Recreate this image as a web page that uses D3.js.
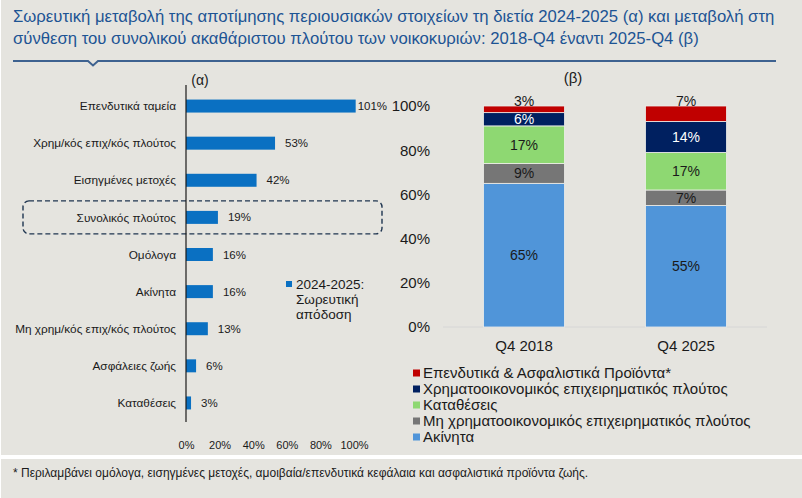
<!DOCTYPE html>
<html>
<head>
<meta charset="utf-8">
<script src="https://cdn.jsdelivr.net/npm/d3@7"></script>
<style>
  html, body { margin: 0; padding: 0; background: #ffffff; }
  svg { display: block; }
  text { font-family: "Liberation Sans", Arial, sans-serif; }
</style>
</head>
<body>
<svg width="802" height="498"></svg>
<script>
// panel (a): cumulative change 2024-2025
const catsA = [
  'Επενδυτικά ταμεία',
  'Χρημ/κός επιχ/κός πλούτος',
  'Εισηγμένες μετοχές',
  'Συνολικός πλούτος',
  'Ομόλογα',
  'Ακίνητα',
  'Μη χρημ/κός επιχ/κός πλούτος',
  'Ασφάλειες ζωής',
  'Καταθέσεις'
];
const valsA = [101, 53, 42, 19, 16, 16, 13, 6, 3];
const ticksA = [0, 20, 40, 60, 80, 100];

// panel (b): composition of gross wealth
const periods = ['Q4 2018', 'Q4 2025'];
const akinita = [65, 55];
const mhXrhm = [9, 7];
const katatheseis = [17, 17];
const xrhm = [6, 14];
const ependytika = [3, 7];
const ticksB = [0, 20, 40, 60, 80, 100];

const seriesKeys = ['akinita', 'mhXrhm', 'katatheseis', 'xrhm', 'ependytika'];
const seriesNames = {
  akinita: 'Ακίνητα',
  mhXrhm: 'Μη χρηματοοικονομικός επιχειρηματικός πλούτος',
  katatheseis: 'Καταθέσεις',
  xrhm: 'Χρηματοοικονομικός επιχειρηματικός πλούτος',
  ependytika: 'Επενδυτικά & Ασφαλιστικά Προϊόντα*'
};
const colors = {
  akinita: '#5095d9',
  mhXrhm: '#767676',
  katatheseis: '#8ed872',
  xrhm: '#002060',
  ependytika: '#c00000'
};
const labelColors = {
  akinita: '#1a1a1a',
  mhXrhm: '#1a1a1a',
  katatheseis: '#1a1a1a',
  xrhm: '#ffffff',
  ependytika: '#1a1a1a'
};

const rowsB = periods.map((p, i) => ({
  period: p,
  akinita: akinita[i],
  mhXrhm: mhXrhm[i],
  katatheseis: katatheseis[i],
  xrhm: xrhm[i],
  ependytika: ependytika[i]
}));

const svg = d3.select('svg');
const bg = '#e5e4df';

// backgrounds
svg.append('rect').attr('x', 1).attr('y', 0).attr('width', 801).attr('height', 455).attr('fill', bg);
svg.append('rect').attr('x', 1).attr('y', 459).attr('width', 801).attr('height', 39).attr('fill', bg);

// title - font size fitted to the reference line widths
const titleLines = [
  ['Σωρευτική μεταβολή της αποτίμησης περιουσιακών στοιχείων τη διετία 2024-2025 (α) και μεταβολή στη', 22, 762],
  ['σύνθεση του συνολικού ακαθάριστου πλούτου των νοικοκυριών: 2018-Q4 έναντι 2025-Q4 (β)', 44, 686]
];
const title = svg.append('g');
titleLines.forEach(([txt, y, w]) => {
  const t = title.append('text')
      .attr('x', 13).attr('y', y)
      .attr('font-size', 18)
      .attr('fill', '#1d5494')
      .text(txt);
  const natural = t.node().getComputedTextLength();
  t.attr('font-size', (18 * w / natural).toFixed(2));
});
title.append('path')
    .attr('d', 'M13,61 H88 L93,65.5 L98,61 H776')
    .attr('fill', 'none')
    .attr('stroke', '#3e6290')
    .attr('stroke-width', 2);

// ---------- panel (a) ----------
const xA = d3.scaleLinear().domain([0, 100]).range([186, 354]);
const yA = d3.scaleBand().domain(catsA).range([87.5, 421.5]).paddingInner(0.65).paddingOuter(0.325);

const gA = svg.append('g');

gA.append('text')
    .attr('x', 200).attr('y', 85)
    .attr('text-anchor', 'middle')
    .attr('font-size', 14)
    .attr('fill', '#1a1a1a')
    .text('(α)');

// highlight box around total wealth
const boxY = yA('Συνολικός πλούτος') + yA.bandwidth() / 2;
gA.append('rect')
    .attr('x', 23).attr('y', boxY - 16.5)
    .attr('width', 359).attr('height', 33)
    .attr('rx', 6)
    .attr('fill', 'none')
    .attr('stroke', '#1f3550')
    .attr('stroke-width', 1.4)
    .attr('stroke-dasharray', '5,3');

gA.selectAll('rect.bar')
  .data(valsA)
  .join('rect')
    .attr('class', 'bar')
    .attr('x', xA(0))
    .attr('y', (d, i) => yA(catsA[i]))
    .attr('width', d => xA(d) - xA(0))
    .attr('height', yA.bandwidth())
    .attr('fill', '#0a70c2');

gA.append('line')
    .attr('x1', xA(0)).attr('x2', xA(0))
    .attr('y1', 85).attr('y2', 422)
    .attr('stroke', '#1a1a1a')
    .attr('stroke-width', 1.2);

gA.selectAll('text.cat')
  .data(catsA)
  .join('text')
    .attr('class', 'cat')
    .attr('x', 176)
    .attr('y', d => yA(d) + yA.bandwidth() / 2)
    .attr('dy', '0.35em')
    .attr('text-anchor', 'end')
    .attr('font-size', 11.8)
    .attr('fill', '#1a1a1a')
    .text(d => d);

gA.selectAll('text.val')
  .data(valsA)
  .join('text')
    .attr('class', 'val')
    .attr('x', d => xA(d) + (d > 100 ? 2 : 10))
    .attr('y', (d, i) => yA(catsA[i]) + yA.bandwidth() / 2)
    .attr('dy', '0.35em')
    .attr('font-size', 11.5)
    .attr('fill', '#1a1a1a')
    .text(d => d + '%');

const axisA = gA.append('g')
    .attr('transform', 'translate(0,438)')
    .call(d3.axisBottom(xA).tickValues(ticksA).tickSize(0).tickFormat(d => d + '%'));
axisA.select('.domain').remove();
axisA.selectAll('text')
    .attr('font-size', 11)
    .attr('fill', '#1a1a1a')
    .style('font-family', '"Liberation Sans", Arial, sans-serif');

// legend (a)
const legA = gA.append('g').attr('transform', 'translate(286,281)');
legA.append('rect').attr('width', 6).attr('height', 6).attr('fill', '#0a70c2');
legA.selectAll('text')
  .data(['2024-2025:', 'Σωρευτική', 'απόδοση'])
  .join('text')
    .attr('x', 10)
    .attr('y', (d, i) => 3 + i * 15)
    .attr('dy', '0.35em')
    .attr('font-size', 13.5)
    .attr('fill', '#1a1a1a')
    .text(d => d);

// ---------- panel (b) ----------
const xB = d3.scaleBand().domain(periods).range([443, 767]).paddingInner(0.5).paddingOuter(0.25);
const yB = d3.scaleLinear().domain([0, 100]).range([327, 106]);
const stackB = d3.stack().keys(seriesKeys)(rowsB);

const gB = svg.append('g');

gB.append('text')
    .attr('x', 573).attr('y', 83)
    .attr('text-anchor', 'middle')
    .attr('font-size', 15)
    .attr('fill', '#1a1a1a')
    .text('(β)');

const axisB = gB.append('g')
    .attr('transform', 'translate(435,0)')
    .call(d3.axisLeft(yB).tickValues(ticksB).tickSize(0).tickPadding(5).tickFormat(d => d + '%'));
axisB.select('.domain').remove();
axisB.selectAll('text')
    .attr('font-size', 15)
    .attr('fill', '#1a1a1a')
    .style('font-family', '"Liberation Sans", Arial, sans-serif');

gB.append('line')
    .attr('x1', 443).attr('x2', 767)
    .attr('y1', yB(0)).attr('y2', yB(0))
    .attr('stroke', '#d6d6d6')
    .attr('stroke-width', 1);

const layers = gB.selectAll('g.layer')
  .data(stackB)
  .join('g')
    .attr('class', 'layer')
    .attr('fill', d => colors[d.key]);

layers.selectAll('rect')
  .data(d => d)
  .join('rect')
    .attr('x', d => xB(d.data.period))
    .attr('y', d => yB(d[1]))
    .attr('width', xB.bandwidth())
    .attr('height', d => yB(d[0]) - yB(d[1]))
    .attr('stroke', '#eeeeea')
    .attr('stroke-width', 0.8);

layers.each(function(s) {
  d3.select(this).selectAll('text')
    .data(s)
    .join('text')
      .attr('x', d => xB(d.data.period) + xB.bandwidth() / 2)
      .attr('y', d => s.key === 'ependytika' ? yB(d[1]) - 5 : yB((d[0] + d[1]) / 2))
      .attr('dy', '0.35em')
      .attr('text-anchor', 'middle')
      .attr('font-size', 14)
      .attr('fill', labelColors[s.key])
      .text(d => (d[1] - d[0]) + '%');
});

const axisBx = gB.append('g')
    .attr('transform', 'translate(0,337)')
    .call(d3.axisBottom(xB).tickSize(0));
axisBx.select('.domain').remove();
axisBx.selectAll('text')
    .attr('font-size', 15)
    .attr('fill', '#1a1a1a')
    .style('font-family', '"Liberation Sans", Arial, sans-serif');

// legend (b)
const legKeys = seriesKeys.slice().reverse();
const legB = gB.append('g').attr('transform', 'translate(413,373)');
const legItems = legB.selectAll('g')
  .data(legKeys)
  .join('g')
    .attr('transform', (d, i) => `translate(0,${i * 16})`);
legItems.append('rect')
    .attr('y', -3.5).attr('width', 7).attr('height', 7)
    .attr('fill', d => colors[d]);
legItems.append('text')
    .attr('x', 10)
    .attr('dy', '0.35em')
    .attr('font-size', 15)
    .attr('fill', '#1a1a1a')
    .text(d => seriesNames[d]);

// footnote
svg.append('text')
    .attr('x', 13).attr('y', 473)
    .attr('dy', '0.35em')
    .attr('font-size', 12)
    .attr('fill', '#1a1a1a')
    .text('* Περιλαμβάνει ομόλογα, εισηγμένες μετοχές, αμοιβαία/επενδυτικά κεφάλαια και ασφαλιστικά προϊόντα ζωής.');
</script>
</body>
</html>
